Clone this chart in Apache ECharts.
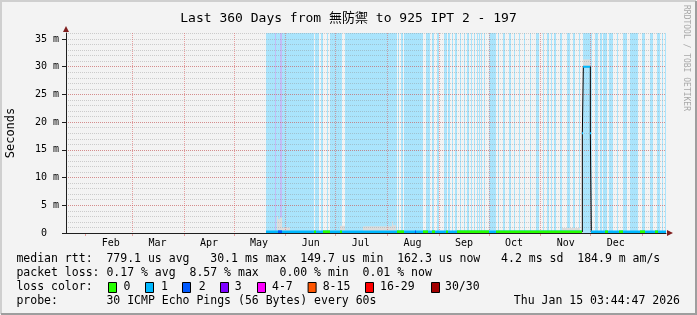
<!DOCTYPE html>
<html><head><meta charset="utf-8">
<script src="https://cdn.jsdelivr.net/npm/echarts@6/dist/echarts.min.js"></script>
<style>html,body{margin:0;padding:0;background:#f3f3f3;}#c{width:697px;height:315px;}</style>
</head><body><div id="c"></div>
<script>
// ---------- data ----------
const DAY = 86400000;
const endTime = Date.UTC(2026, 0, 15, 3, 44, 47);
const spanDays = 360;
const startTime = endTime - spanDays * DAY;

const monthNames = ['Feb','Mar','Apr','May','Jun','Jul','Aug','Sep','Oct','Nov','Dec'];
const monthYears = [2025,2025,2025,2025,2025,2025,2025,2025,2025,2025,2025];
const monthIdx   = [1,2,3,4,5,6,7,8,9,10,11];
const gridMonthYears = [2025,2025,2025,2025,2025,2025,2025,2025,2025,2025,2025,2026];
const gridMonthIdx   = [1,2,3,4,5,6,7,8,9,10,11,0];

const yMajorValues = [0,0.005,0.010,0.015,0.020,0.025,0.030,0.035];
const yMajorLabels = ['0  ','5 m','10 m','15 m','20 m','25 m','30 m','35 m'];
const yMax = 0.03608;

// loss-band intervals (days since start), light blue (loss 1)
const bandStart = [120.0,149.6,152.7,156.6,158.4,167.4,199.4,201.0,202.8,215.8,219.4,222.4,226.8,229.4,231.6,233.4,236.4,238.8,240.8,243.0,244.8,246.4,247.8,249.0,250.8,254.0,259.4,262.4,266.0,268.8,272.0,274.8,278.4,282.0,286.0,288.8,290.8,293.0,296.4,300.4,304.4,307.8,310.0,317.4,320.4,322.4,326.0,330.4,334.2,338.4,340.4,345.4,350.4,354.4,357.4,359.4];
const bandEnd   = [148.8,151.8,154.0,157.2,165.6,198.6,200.0,202.4,214.4,218.4,220.8,223.8,228.4,230.4,232.2,234.6,237.0,239.6,241.8,243.6,245.6,247.0,248.4,249.8,251.4,257.8,260.0,263.4,266.8,269.4,272.6,275.6,279.2,284.0,286.8,289.6,291.4,293.8,297.4,302.4,305.6,308.4,315.4,319.0,321.4,324.4,328.4,331.2,336.4,340.0,343.4,347.4,352.4,356.4,358.4,360.0];
// loss-band intervals, higher loss (purple tint)
const band2Start = [125.4,128.4];
const band2End   = [126.0,129.6];

// median rtt (seconds), step values
const medianDay = [120.0, 309.8, 310.4, 314.6, 315.2, 360.0];
const medianVal = [0.0002, 0.018, 0.030, 0.018, 0.0002, 0.0002];

// median segments coloured by loss class
const segStart = [120.0,315.2,149.0,154.4,164.4,198.4,214.4,219.4,228.0,234.4,258.0,323.4,331.8,344.4,353.4,127.2,209.4,309.8,310.4,314.6];
const segEnd   = [309.8,360.0,150.0,158.4,165.4,202.8,217.4,221.4,229.2,253.8,309.8,325.2,334.2,347.4,355.2,129.6,210.0,310.4,314.6,315.2];
const segValue = [0.0002,0.0002,0.0002,0.0002,0.0002,0.0002,0.0002,0.0002,0.0002,0.0002,0.0002,0.0002,0.0002,0.0002,0.0002,0.0002,0.0002,0.018,0.030,0.018];
const segLoss  = [1,1,0,0,0,0,0,0,0,0,0,0,0,0,0,2,2,1,1,1];

// smoke (ping spread) low/high
const smokeStart = [126.4,127.2,128.4,129.4,164.4,178.2,195.4,196.4,297.4,310.4];
const smokeEnd   = [127.2,128.4,129.4,134.4,167.4,195.4,196.4,198.0,308.4,314.6];
const smokeLow   = [0,0,0,0,0,0,0,0,0,0.030];
const smokeHigh  = [0.0030,0.0025,0.0028,0.0010,0.0013,0.0012,0.0021,0.0014,0.0009,0.0313];

const lossColors = ['#26ff00','#00b8ff','#0059ff','#7e00ff','#ff00ff','#ff5500','#ff0000','#a10000'];
const lossLabels = ['0','1','2','3','4-7','8-15','16-29','30/30'];

// ---------- build ----------
const dayOf = ts => (ts - startTime) / DAY;
const gridMonthDays = gridMonthIdx.map((m, i) => dayOf(Date.UTC(gridMonthYears[i], m, 1)));
const labelDays = monthIdx.map((m, i) => dayOf(Date.UTC(monthYears[i], m, 1)) + 15);
const monthNameAt = v => { const i = labelDays.findIndex(d => Math.abs(d - v) < 1e-6); return i >= 0 ? monthNames[i] : ''; };

const MONO = '"DejaVu Sans Mono", monospace';
const MAJOR = 'rgba(222,79,79,0.5)';
const MINOR = 'rgba(143,143,143,0.4)';

function rectSeries(data, color, z) {
  return {
    type: 'custom', xAxisIndex: 0, yAxisIndex: 0, z: z, silent: true,
    encode: { x: [0, 1], y: [2, 3] },
    data: data,
    renderItem: function (params, api) {
      const p0 = api.coord([api.value(0), api.value(3)]);
      const p1 = api.coord([api.value(1), api.value(2)]);
      const x0 = Math.round(p0[0]), x1 = Math.max(Math.round(p1[0]), x0 + 1);
      return { type: 'rect', shape: { x: x0, y: p0[1], width: x1 - x0, height: p1[1] - p0[1] },
               style: { fill: color } };
    }
  };
}

const bandData = bandStart.map((s, i) => [s, bandEnd[i], 0, yMax]);
const band2Data = band2Start.map((s, i) => [s, band2End[i], 0, yMax]);
const smokeData = smokeStart.map((s, i) => [s, smokeEnd[i], smokeLow[i], smokeHigh[i]]);
const segData = segStart.map((s, i) => [s, segEnd[i], segValue[i], segLoss[i]]);

const txtStyle = (text, extra) => Object.assign({ text: text, font: '11.5px ' + MONO, fill: '#000', verticalAlign: 'middle', align: 'left' }, extra || {});
const T = (x, y, text, extra) => ({ type: 'text', x: x, y: y, silent: true, z: 100, style: txtStyle(text, extra) });

const boxX = [108, 145, 182, 220, 257, 307.6, 365, 431];
const boxLabelX = [123.6, 161, 198.7, 234.7, 272, 322.7, 380, 445];

const graphics = [
  { type: 'polyline', silent: true, shape: { points: [[1, 314], [1, 1], [696, 1]] }, style: { stroke: '#cfcfcf', lineWidth: 2, fill: null } },
  { type: 'polyline', silent: true, shape: { points: [[1, 314], [696, 314], [696, 1]] }, style: { stroke: '#9e9e9e', lineWidth: 2, fill: null } },
  T(16.4, 259.5, 'median rtt:  779.1 us avg   30.1 ms max  149.7 us min  162.3 us now   4.2 ms sd  184.9 m am/s'),
  T(16.4, 273.5, 'packet loss: 0.17 % avg  8.57 % max   0.00 % min  0.01 % now'),
  T(16.4, 287.3, 'loss color:'),
  T(16.4, 301, 'probe:       30 ICMP Echo Pings (56 Bytes) every 60s'),
  T(680, 301, 'Thu Jan 15 03:44:47 2026', { align: 'right' }),
  { type: 'text', x: 686, y: 5, rotation: -Math.PI / 2, silent: true,
    style: { text: 'RRDTOOL / TOBI OETIKER', font: '8px ' + MONO, fill: '#a8a8a8', verticalAlign: 'middle', align: 'left' } }
];
lossLabels.forEach((lab, i) => {
  graphics.push({ type: 'rect', silent: true, z: 100, shape: { x: boxX[i] + 0.5, y: 282.5, width: 8, height: 10 },
                  style: { fill: lossColors[i], stroke: '#000', lineWidth: 1 } });
  graphics.push(T(boxLabelX[i], 287.3, lab));
});

const option = {
  backgroundColor: '#f3f3f3',
  animation: false,
  title: { text: 'Last 360 Days from 無防禦 to 925 IPT 2 - 197', left: 'center', top: 7,
           textStyle: { fontFamily: MONO + ', "Noto Sans CJK TC"', fontSize: 13, fontWeight: 'normal', color: '#000' } },
  grid: { left: 66, top: 33, width: 600, height: 200, containLabel: false, outerBoundsMode: 'none' },
  xAxis: [
    { type: 'value', position: 'bottom', min: 0, max: spanDays, z: 1,
      axisLine: { show: true, onZero: false, symbol: ['none', 'triangle'], symbolSize: [6, 6], symbolOffset: [0, 4],
                  lineStyle: { color: '#801f1f', opacity: 0 } },
      axisTick: { show: true, customValues: gridMonthDays, length: 3, lineStyle: { color: MAJOR } },
      axisLabel: { show: true, customValues: labelDays, margin: 5, fontFamily: MONO, fontSize: 10, color: '#000',
                   formatter: v => monthNameAt(v) },
      splitLine: { show: true, showMinLine: false, showMaxLine: false, lineStyle: { color: MAJOR, type: [1, 1], width: 1 } }
    },
    { type: 'value', position: 'bottom', min: 0, max: spanDays, z: 5,
      axisLine: { show: true, onZero: false, lineStyle: { color: '#1f1f1f', width: 1 } },
      axisTick: { show: false }, axisLabel: { show: false }, splitLine: { show: false } }
  ],
  yAxis: [
    { type: 'value', position: 'left', min: 0, max: yMax, interval: 0.001, z: 1,
      axisLine: { show: true, onZero: false, symbol: ['none', 'triangle'], symbolSize: [6, 6], symbolOffset: [0, 4],
                  lineStyle: { color: '#801f1f', opacity: 0 } },
      axisTick: { show: false }, axisLabel: { show: false },
      splitLine: { show: true, showMinLine: false, showMaxLine: false, lineStyle: { color: MINOR, type: [1, 1], width: 1 } } },
    { type: 'value', position: 'left', min: 0, max: yMax, interval: 0.005, z: 1,
      name: 'Seconds', nameLocation: 'middle', nameGap: 49, nameRotate: 90,
      nameTextStyle: { fontFamily: MONO, fontSize: 12, color: '#000' },
      axisLine: { show: true, onZero: false, lineStyle: { color: '#1f1f1f', width: 1 } },
      axisTick: { show: true, length: 4, customValues: yMajorValues, lineStyle: { color: '#1f1f1f' } },
      axisLabel: { show: true, customValues: yMajorValues, margin: 7, fontFamily: MONO, fontSize: 10, color: '#000',
                   formatter: v => { const i = yMajorValues.findIndex(x => Math.abs(x - v) < 1e-9); return i >= 0 ? yMajorLabels[i] : ''; } },
      splitLine: { show: true, showMinLine: false, showMaxLine: false, lineStyle: { color: MAJOR, type: [1, 1], width: 1 } } }
  ],
  series: [
    rectSeries(bandData, '#aae4fc', 0.5),
    rectSeries(band2Data, '#c4bcf6', 0.6),
    rectSeries(smokeData, '#dcdcdc', 0.7),
    { type: 'line', xAxisIndex: 0, yAxisIndex: 0, z: 2.5, step: 'end', symbol: 'none', silent: true,
      lineStyle: { color: '#000', width: 1 },
      data: medianDay.map((d, i) => [d, medianVal[i]]) },
    { type: 'custom', xAxisIndex: 0, yAxisIndex: 0, z: 3, silent: true,
      encode: { x: [0, 1], y: 2 },
      data: segData,
      renderItem: function (params, api) {
        const a = api.coord([api.value(0), api.value(2)]);
        const b = api.coord([api.value(1), api.value(2)]);
        const low = api.value(2) < 0.005;
        const xa = Math.round(a[0]), xb = Math.max(Math.round(b[0]), xa + 1);
        return { type: 'line',
                 shape: { x1: xa, y1: a[1], x2: xb, y2: b[1] },
                 style: { stroke: lossColors[api.value(3)], lineWidth: low ? 3 : 2, lineCap: 'butt' } };
      } }
  ],
  graphic: graphics
};

const chart = echarts.init(document.getElementById('c'));
chart.setOption(option);
</script>
</body></html>
